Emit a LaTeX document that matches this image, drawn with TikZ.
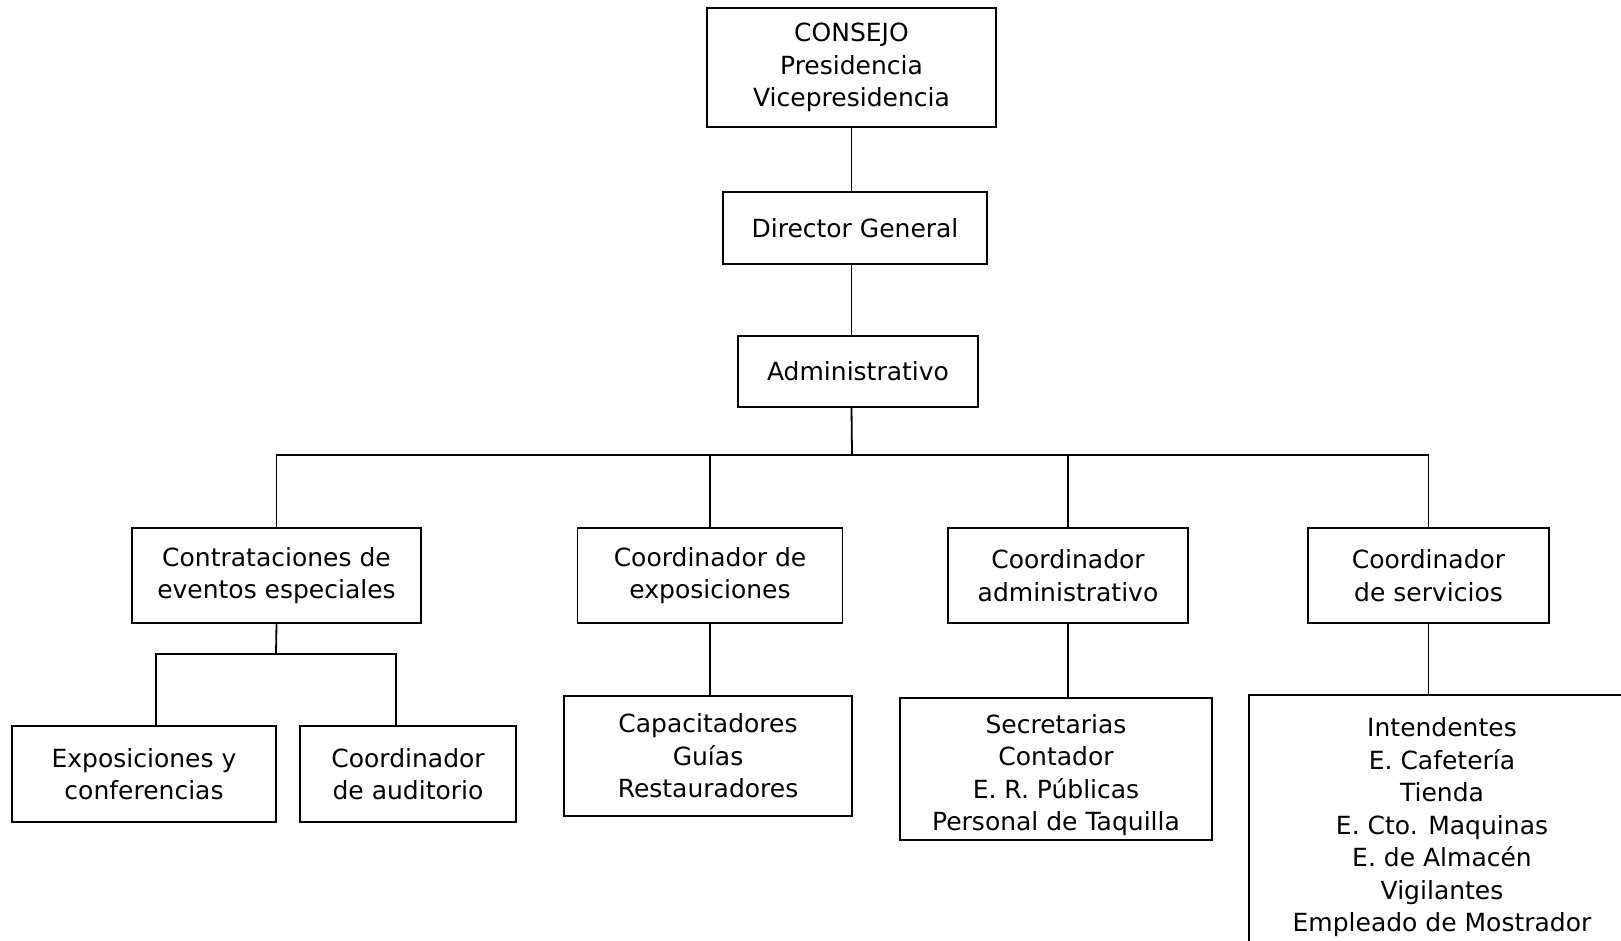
\documentclass[tikz,border=0pt]{standalone}
\usepackage{fontspec}
\setmainfont{DejaVu Sans}

\begin{document}
\begin{tikzpicture}[x=1pt,y=-1pt,line width=1.8pt,
	box/.style={draw,fill=white,align=center,inner sep=0pt,font=\fontsize{25}{32.5}\selectfont}]
	\useasboundingbox (0,0) rectangle (1621,941);

	\node[box,minimum width=289pt,minimum height=119pt] (consejo) at (851.5,67.5)
		{CONSEJO\\Presidencia\\Vicepresidencia};
	\node[box,minimum width=264pt,minimum height=72pt] (director) at (855,228) {Director General};
	\node[box,minimum width=240pt,minimum height=71pt] (admin) at (858,371.5) {Administrativo};

	\node[box,minimum width=289pt,minimum height=95pt] (contrat) at (276.5,575.5)
		{Contrataciones de\\eventos especiales};
	\node[box,minimum width=265pt,minimum height=95pt] (coordexp) at (710,575.5)
		{Coordinador de\\exposiciones};
	\node[box,minimum width=240pt,minimum height=95pt] (coordadm) at (1068,575.5)
		{Coordinador\\administrativo};
	\node[box,minimum width=241pt,minimum height=95pt] (coordserv) at (1428.5,575.5)
		{Coordinador\\de servicios};

	\node[box,minimum width=264pt,minimum height=96pt] (expos) at (144,774)
		{Exposiciones y\\conferencias};
	\node[box,minimum width=216pt,minimum height=96pt] (auditorio) at (408,774)
		{Coordinador\\de auditorio};
	\node[box,minimum width=288pt,minimum height=120pt] (capacit) at (708,756)
		{Capacitadores\\Guías\\Restauradores};
	\node[box,minimum width=312pt,minimum height=142pt] (secret) at (1056,769) {};
	\node[box,draw=none,fill=none] (secrettext) at (1056,775)
		{Secretarias\\Contador\\E. R. Públicas\\Personal de Taquilla};
	\node[box,minimum width=386pt,minimum height=265pt] (intend) at (1442,827.5)
		{Intendentes\\E. Cafetería\\Tienda\\E. Cto. Maquinas\\E. de Almacén\\Vigilantes\\Empleado de Mostrador};

	\coordinate (bar) at (852,455);
	\coordinate (subbar) at (276,654);

	\draw (consejo.south) -- (consejo.south |- director.north);
	\draw (consejo.south |- director.south) -- (consejo.south |- admin.north);
	\draw (consejo.south |- admin.south) -- (bar);
	\draw (contrat.north) |- (bar) -| (coordserv.north);
	\draw (coordexp.north) -- (coordexp.north |- bar);
	\draw (coordadm.north) -- (coordadm.north |- bar);

	\draw (contrat.south) -- (subbar);
	\draw ([xshift=12pt]expos.north) |- (subbar) -| ([xshift=-12pt]auditorio.north);
	\draw (coordexp.south) -- (coordexp.south |- capacit.north);
	\draw (coordadm.south) -- (coordadm.south |- secret.north);
	\draw (coordserv.south) -- (coordserv.south |- intend.north);
\end{tikzpicture}
\end{document}
